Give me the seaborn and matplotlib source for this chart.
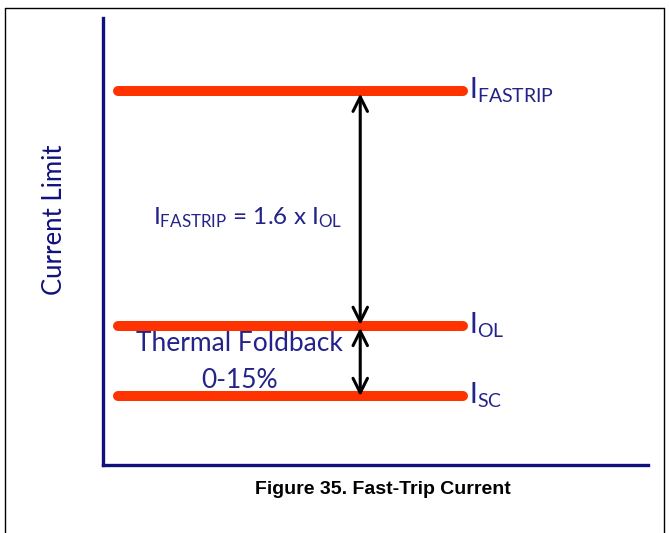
import pandas as pd
import seaborn as sns
import matplotlib.pyplot as plt
from matplotlib.lines import Line2D

# current limit levels (arbitrary units)
levels = ['FASTRIP', 'OL', 'SC']
level_values = [83.7, 31.1, 15.4]
level_labels = [r'$\mathrm{I_{FASTRIP}}$', r'$\mathrm{I_{OL}}$', r'$\mathrm{I_{SC}}$']
ratio_text = r'$\mathrm{I_{FASTRIP}}$ = 1.6 x $\mathrm{I_{OL}}$'
foldback_text = ['Thermal Foldback', '0-15%']
caption = 'Figure 35. Fast-Trip Current'

sns.set_style('white')
plt.rcParams['font.family'] = ['Lato', 'DejaVu Sans']
plt.rcParams['mathtext.fontset'] = 'custom'
plt.rcParams['mathtext.rm'] = 'Lato'

navy = '#10107f'
text_blue = '#23238a'
red = '#ff3300'

x_start, x_end = 2.8, 66.1
rows = []
for name, v in zip(levels, level_values):
    rows.append([name, x_start, v])
    rows.append([name, x_end, v])
df = pd.DataFrame(rows, columns=['level', 'x', 'y'])

fig = plt.figure(figsize=(6.69, 5.33), dpi=100)
ax = fig.add_axes([103 / 669, 1 - 465 / 533, 545 / 669, 447 / 533])

sns.lineplot(data=df, x='x', y='y', units='level', estimator=None, color=red,
             linewidth=7.2, solid_capstyle='round', ax=ax, legend=False)

ax.set_xlim(0, 100)
ax.set_ylim(0, 100)
ax.set_xticks([])
ax.set_yticks([])
ax.set_xlabel('')
sns.despine(ax=ax)
for s in ['left', 'bottom']:
    ax.spines[s].set_color(navy)
    ax.spines[s].set_linewidth(2.4)

ax.set_ylabel('Current Limit', fontsize=18.5, color=navy)
ax.yaxis.set_label_coords(-(103 - 67) / 545, (465 - 220) / 447)

# level labels at the right end of each line
for v, lab in zip(level_values, level_labels):
    ax.text(67.2, v + 0.1, lab, fontsize=20, color=text_blue, va='center', ha='left')

# double arrows between levels
arrow_x = 47.2
arrowprops = dict(arrowstyle='<->', color='black', lw=2.2, mutation_scale=26, shrinkA=0, shrinkB=0)
ax.annotate('', xy=(arrow_x, level_values[0] - 0.6), xytext=(arrow_x, level_values[1] + 0.2),
            arrowprops=arrowprops)
ax.annotate('', xy=(arrow_x, level_values[1] - 0.4), xytext=(arrow_x, level_values[2]),
            arrowprops=arrowprops)

ax.text(9.2, 55.3, ratio_text, fontsize=17.5, color=text_blue, va='center', ha='left')
ax.text(25.1, 27.1, foldback_text[0], fontsize=19, color=text_blue, va='center', ha='center')
ax.text(25.1, 18.8, foldback_text[1], fontsize=19, color=text_blue, va='center', ha='center')

fig.text(383 / 669, 1 - 489 / 533, caption, fontsize=14, fontweight='bold', color='black',
         family=['Liberation Sans', 'DejaVu Sans'], ha='center', va='center')

# page frame
for xs, ys in [([5 / 669, 5 / 669], [0, 1 - 8 / 533]),
               ([5 / 669, 664 / 669], [1 - 8 / 533, 1 - 8 / 533]),
               ([664 / 669, 664 / 669], [0, 1 - 8 / 533])]:
    fig.add_artist(Line2D(xs, ys, color='black', lw=1))

fig.savefig('out.png', dpi=100)
